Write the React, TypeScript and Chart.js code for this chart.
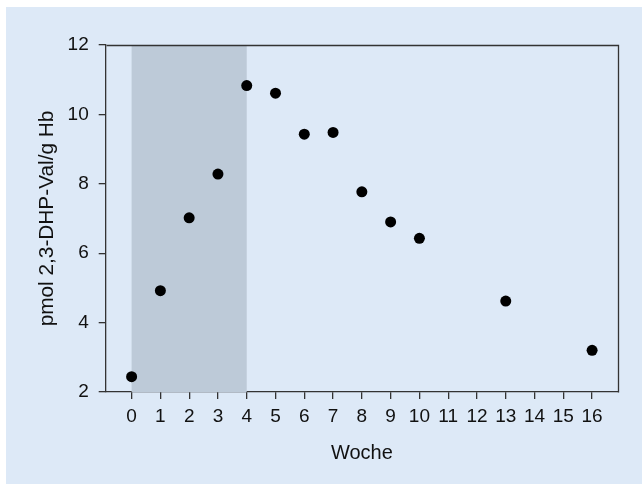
import React, { useEffect, useRef } from "react";
import { Chart, registerables } from "chart.js";

Chart.register(...registerables);

const weeks = [0, 1, 2, 3, 4, 5, 6, 7, 8, 9, 10, 13, 16];
const values = [2.44, 4.92, 7.02, 8.28, 10.83, 10.61, 9.43, 9.48, 7.77, 6.9, 6.43, 4.62, 3.2];
const xTickValues = [0, 1, 2, 3, 4, 5, 6, 7, 8, 9, 10, 11, 12, 13, 14, 15, 16];
const yTickValues = [2, 4, 6, 8, 10, 12];
const shadedWeeks = [0, 4];
const xTitle = "Woche";
const yTitle = "pmol 2,3-DHP-Val/g Hb";

const BG = "#dde9f7";
const BAND = "#bdcad8";
const AXIS = "#333333";
const TEXT = "#111111";
const FONT = "'Liberation Sans', Arial, sans-serif";

const W = 636;
const H = 477;

const bandPlugin = {
  id: "band",
  beforeDatasetsDraw(chart: any) {
    const { ctx, chartArea, scales } = chart;
    const x0 = scales.x.getPixelForValue(shadedWeeks[0]);
    const x1 = scales.x.getPixelForValue(shadedWeeks[1]);
    ctx.save();
    ctx.fillStyle = BAND;
    ctx.fillRect(x0, chartArea.top, x1 - x0, chartArea.bottom - chartArea.top);
    ctx.restore();
  },
  afterDatasetsDraw(chart: any) {
    const { ctx, chartArea } = chart;
    ctx.save();
    ctx.strokeStyle = AXIS;
    ctx.lineWidth = 1.3;
    ctx.beginPath();
    ctx.moveTo(Math.round(chartArea.left) + 0.5, Math.round(chartArea.top) + 0.5);
    ctx.lineTo(Math.round(chartArea.right) + 0.5, Math.round(chartArea.top) + 0.5);
    ctx.lineTo(Math.round(chartArea.right) + 0.5, Math.round(chartArea.bottom) + 0.5);
    ctx.stroke();
    ctx.restore();
  },
};

export default function App() {
  const ref = useRef<HTMLCanvasElement>(null);

  useEffect(() => {
    if (!ref.current) return;
    const chart = new Chart(ref.current, {
      type: "scatter",
      data: {
        datasets: [
          {
            data: weeks.map((w, i) => ({ x: w, y: values[i] })),
            backgroundColor: "#000000",
            borderColor: "#000000",
            borderWidth: 0,
            pointRadius: 5.5,
            pointHoverRadius: 5.5,
          },
        ],
      },
      options: {
        responsive: false,
        animation: false,
        devicePixelRatio: 1,
        layout: { padding: { left: 29, top: 38, right: 24, bottom: 19 } },
        plugins: {
          legend: { display: false },
          tooltip: { enabled: false },
        },
        scales: {
          x: {
            type: "linear",
            min: -0.9,
            max: 16.9,
            afterBuildTicks: (scale: any) => {
              scale.ticks = xTickValues.map((v) => ({ value: v }));
            },
            afterFit: (scale: any) => {
              scale.height = 73;
            },
            grid: {
              drawOnChartArea: false,
              drawTicks: true,
              tickLength: 7,
              color: AXIS,
              lineWidth: 1.3,
            },
            border: { display: true, color: AXIS, width: 1.3 },
            ticks: {
              color: TEXT,
              font: { family: FONT, size: 19 },
              padding: 6,
              maxRotation: 0,
              autoSkip: false,
            },
            title: {
              display: true,
              text: xTitle,
              color: TEXT,
              font: { family: FONT, size: 20 },
              padding: 0,
            },
          },
          y: {
            type: "linear",
            min: 2,
            max: 12,
            afterBuildTicks: (scale: any) => {
              scale.ticks = yTickValues.map((v) => ({ value: v }));
            },
            afterFit: (scale: any) => {
              scale.width = 70.7;
            },
            grid: {
              drawOnChartArea: false,
              drawTicks: true,
              tickLength: 7,
              color: AXIS,
              lineWidth: 1.3,
            },
            border: { display: true, color: AXIS, width: 1.3 },
            ticks: {
              color: TEXT,
              font: { family: FONT, size: 19 },
              padding: 10,
            },
            title: {
              display: true,
              text: yTitle,
              color: TEXT,
              font: { family: FONT, size: 20.8 },
              padding: 0,
            },
          },
        },
      },
      plugins: [bandPlugin],
    });
    return () => chart.destroy();
  }, []);

  return (
    <div
      style={{
        position: "absolute",
        left: 6,
        top: 7,
        width: W,
        height: H,
        background: BG,
      }}
    >
      <canvas ref={ref} width={W} height={H} style={{ display: "block", width: W, height: H }} />
    </div>
  );
}
